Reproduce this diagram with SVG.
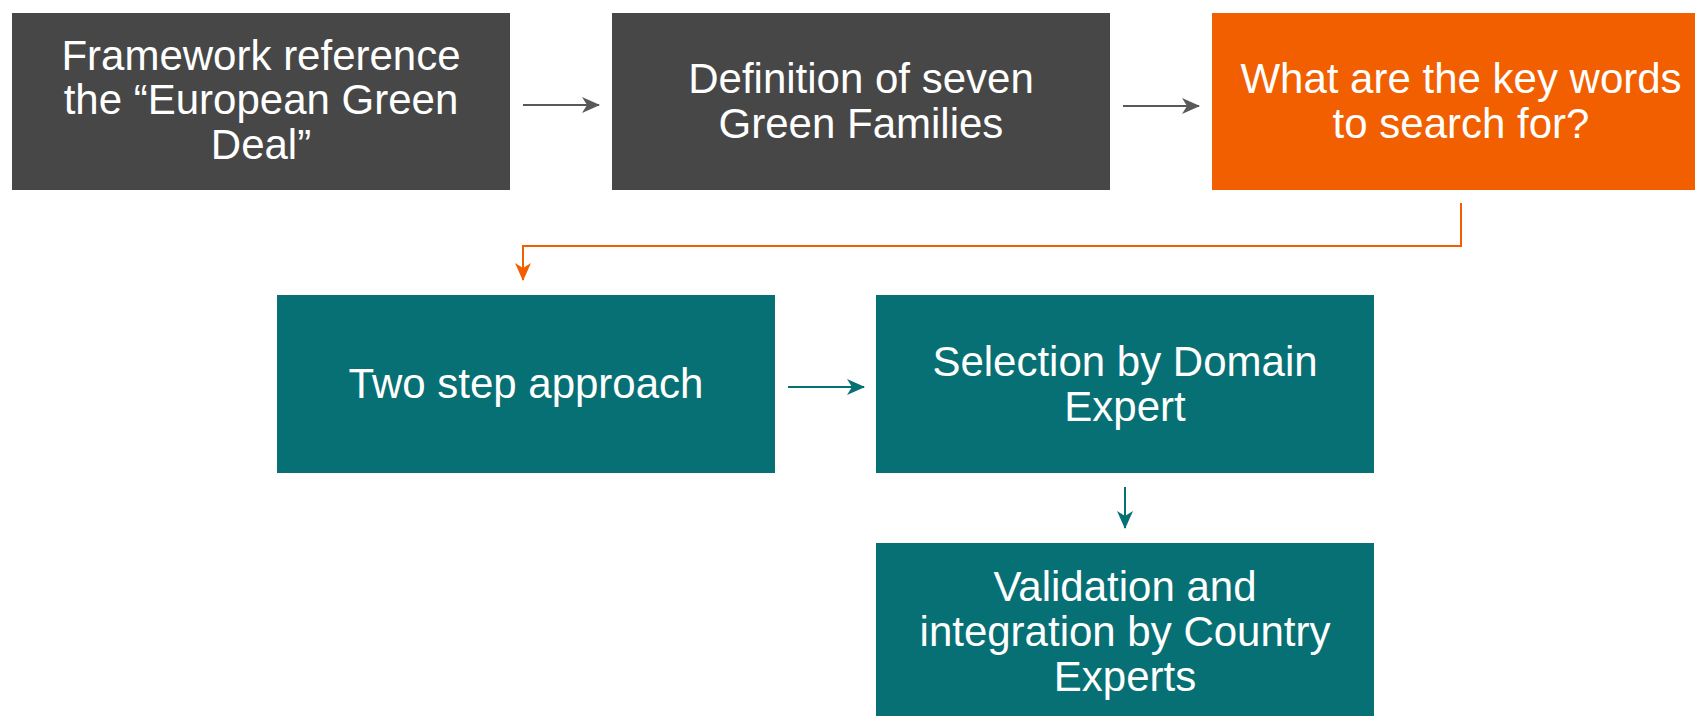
<svg xmlns="http://www.w3.org/2000/svg" width="1695" height="716" viewBox="0 0 1695 716">
<style>
.box text{font-family:"Liberation Sans",Arial,sans-serif;font-size:42px;fill:#ffffff;text-anchor:middle}
.dark{fill:#474747}.orange{fill:#F25F00}.teal{fill:#077074}
.c{fill:none;stroke-width:2}
</style>
<defs>
<marker id="ag" markerWidth="18" markerHeight="16" refX="17" refY="8" orient="auto" markerUnits="userSpaceOnUse"><path d="M0,0 L18,8 L0,16 L5,8 z" fill="#595959"/></marker>
<marker id="ao" markerWidth="18" markerHeight="16" refX="17" refY="8" orient="auto" markerUnits="userSpaceOnUse"><path d="M0,0 L18,8 L0,16 L5,8 z" fill="#F25F00"/></marker>
<marker id="at" markerWidth="18" markerHeight="16" refX="17" refY="8" orient="auto" markerUnits="userSpaceOnUse"><path d="M0,0 L18,8 L0,16 L5,8 z" fill="#077074"/></marker>
</defs>
<g id="n1" class="box"><rect class="dark" x="12" y="13" width="498" height="177"/>
<text x="261" y="70">Framework reference</text><text x="261" y="114">the “European Green</text><text x="261" y="159">Deal”</text></g>
<g id="n2" class="box"><rect class="dark" x="612" y="13" width="498" height="177"/>
<text x="861" y="93">Definition of seven</text><text x="861" y="138">Green Families</text></g>
<g id="n3" class="box"><rect class="orange" x="1212" y="13" width="498" height="177"/>
<text x="1461" y="93">What are the key words</text><text x="1461" y="138">to search for?</text></g>
<g id="n4" class="box"><rect class="teal" x="277" y="295" width="498" height="178"/>
<text x="526" y="398">Two step approach</text></g>
<g id="n5" class="box"><rect class="teal" x="876" y="295" width="498" height="178"/>
<text x="1125" y="376">Selection by Domain</text><text x="1125" y="421">Expert</text></g>
<g id="n6" class="box"><rect class="teal" x="876" y="543" width="498" height="190"/>
<text x="1125" y="601">Validation and</text><text x="1125" y="646">integration by Country</text><text x="1125" y="691">Experts</text></g>
<g id="connectors">
<path class="c" stroke="#595959" d="M523,105 H599" marker-end="url(#ag)"/>
<path class="c" stroke="#595959" d="M1123,106 H1199" marker-end="url(#ag)"/>
<path class="c" stroke="#F25F00" d="M1461,203 V246 H523 V280" marker-end="url(#ao)"/>
<path class="c" stroke="#077074" d="M788,387 H864" marker-end="url(#at)"/>
<path class="c" stroke="#077074" d="M1125,487 V528" marker-end="url(#at)"/>
</g>
</svg>
